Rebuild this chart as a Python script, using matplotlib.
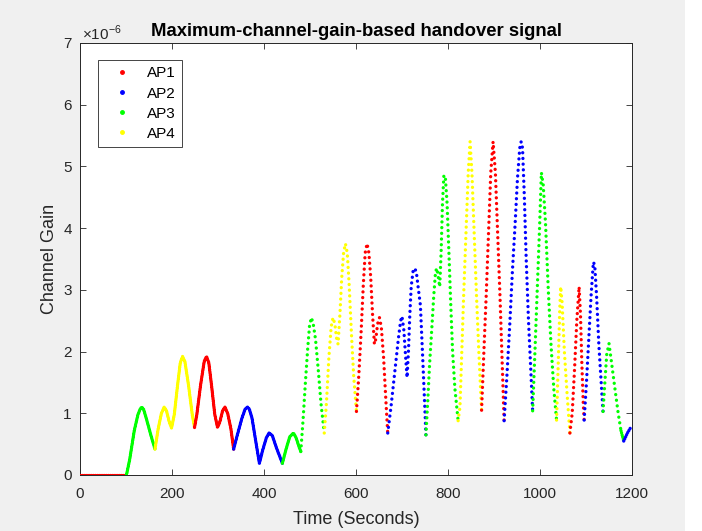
import numpy as np
import matplotlib
matplotlib.use("Agg")
import matplotlib.pyplot as plt
from matplotlib.lines import Line2D
from matplotlib.patches import Rectangle
from matplotlib.ticker import FuncFormatter

plt.rcParams["font.family"] = ["Liberation Sans", "DejaVu Sans"]
plt.rcParams["mathtext.fontset"] = "custom"
plt.rcParams["mathtext.rm"] = "Liberation Sans"

# strongest-AP channel gain (keypoints, x1e-6)
time_s = [0, 101, 108, 118, 126, 131, 134, 138, 144, 155, 163,
          170, 177, 183, 188, 194, 199, 205, 212, 218, 223, 228, 236, 244, 249,
          254, 262, 270, 275, 280, 286, 293, 299, 304, 310, 315, 321, 328, 334,
          341, 352, 359, 364, 368, 374, 382, 390, 397, 405, 411, 418, 428, 440,
          448, 456, 464, 470, 476, 480, 485, 490, 495, 499, 503, 507, 512, 518, 524, 531,
          536, 541, 546, 550, 554, 558, 561, 565, 569, 573, 577, 581, 585, 590, 595, 601,
          606, 611, 616, 620, 624, 628, 632, 636, 640, 643, 647, 651, 655, 660, 665, 669,
          676, 684, 692, 697, 700, 704, 708, 711, 714, 717, 720, 724, 727, 731, 735, 740, 745, 749, 752,
          756, 760, 765, 769, 773, 776, 779, 782, 785, 788, 791, 794, 798, 802, 806, 810, 815, 822,
          826, 830, 834, 839, 844, 848, 852, 857, 862, 867, 873,
          878, 883, 888, 893, 898, 903, 908, 913, 917, 922,
          928, 934, 940, 946, 951, 956, 959, 962, 966, 970, 975, 980, 984,
          989, 994, 999, 1003, 1007, 1012, 1018, 1024, 1030, 1036,
          1040, 1043, 1045, 1048, 1053, 1059, 1065,
          1070, 1075, 1080, 1085, 1088, 1091, 1094, 1096,
          1101, 1106, 1111, 1116, 1119, 1123, 1128, 1133, 1137,
          1141, 1145, 1150, 1155, 1162, 1170, 1176, 1182,
          1190, 1198]
gain_e6 = [0, 0, 0.25, 0.72, 0.98, 1.07, 1.10, 1.07, 0.92, 0.62, 0.42,
           0.75, 1.0, 1.10, 1.04, 0.86, 0.76, 0.98, 1.45, 1.82, 1.92, 1.84, 1.45, 0.98, 0.77,
           0.98, 1.45, 1.84, 1.92, 1.82, 1.45, 0.98, 0.77, 0.86, 1.04, 1.10, 1.0, 0.75, 0.42,
           0.62, 0.92, 1.07, 1.10, 1.07, 0.92, 0.55, 0.19, 0.40, 0.60, 0.68, 0.64, 0.42, 0.19,
           0.42, 0.62, 0.68, 0.60, 0.46, 0.38, 0.9, 1.5, 2.05, 2.42, 2.55, 2.45, 2.2, 1.7, 1.15, 0.68,
           1.2, 1.9, 2.4, 2.55, 2.45, 2.2, 2.12, 2.6, 3.2, 3.6, 3.75, 3.6, 3.1, 2.3, 1.6, 1.03,
           1.6, 2.3, 3.1, 3.6, 3.75, 3.6, 3.2, 2.6, 2.12, 2.2, 2.45, 2.55, 2.4, 1.9, 1.2, 0.68,
           1.1, 1.65, 2.2, 2.5, 2.57, 2.35, 1.9, 1.58, 2.0, 2.6, 3.05, 3.3, 3.35, 3.3, 3.05, 2.75, 1.9, 1.2, 0.65,
           1.2, 1.8, 2.4, 2.9, 3.3, 3.35, 3.2, 3.05, 3.6, 4.4, 4.85, 4.85, 4.4, 3.6, 2.76, 2.0, 1.4, 0.88,
           1.1, 2.0, 2.9, 3.9, 4.9, 5.4, 4.9, 3.9, 2.9, 2.0, 1.05,
           2.0, 2.9, 3.9, 4.9, 5.4, 4.9, 3.9, 2.9, 2.0, 0.88,
           1.6, 2.4, 3.3, 4.08, 4.8, 5.3, 5.4, 5.3, 4.5, 3.5, 2.5, 1.7, 1.04,
           2.0, 3.0, 4.0, 4.9, 4.7, 4.08, 3.0, 2.1, 1.4, 0.89,
           1.9, 2.7, 3.05, 2.8, 2.0, 1.3, 0.68,
           1.0, 1.7, 2.5, 3.05, 2.6, 1.8, 1.17, 0.89,
           1.5, 2.2, 2.9, 3.45, 3.4, 2.9, 2.1, 1.5, 1.03,
           1.5, 1.95, 2.13, 1.85, 1.45, 1.0, 0.72, 0.55,
           0.68, 0.78]

# handover instants and the AP that serves each interval
switch_times = [0, 101, 163, 249, 334, 440, 531, 601, 669, 752, 822, 873,
                922, 984, 1036, 1065, 1096, 1137, 1182, 1198]
serving_ap = [1, 3, 4, 1, 2, 3, 4, 1, 2, 3, 4, 1, 2, 3, 4, 1, 2, 3, 2]

ap_names = ["AP1", "AP2", "AP3", "AP4"]
ap_colors = ["#ff0000", "#0000ff", "#00ff00", "#ffff00"]

x_ticks = [0, 200, 400, 600, 800, 1000, 1200]
y_ticks = [0, 1, 2, 3, 4, 5, 6, 7]

# slowly varying stretches look like a solid bead line in the original
DENSE_UNTIL, DENSE_FROM = 480, 1176
AXC = "#262626"

t = np.array(time_s, dtype=float)
g = np.array(gain_e6) * 1e-6

fig = plt.figure(figsize=(7.02, 5.31), dpi=100, facecolor="#f0f0f0")
fig.patches.append(Rectangle((685 / 702, 0), 1, 1, transform=fig.transFigure,
                             fc="white", ec="none", zorder=-10))
ax = fig.add_axes([80 / 702, 56 / 531, 552 / 702, 432 / 531])


def dotted(tt, gg, color, gap):
    if len(tt) < 2:
        return
    ax.plot(tt, gg, color=color, lw=2.4, ls=(0, (0.01, gap)),
            dash_capstyle="round", zorder=3)


for i, ap in enumerate(serving_ap):
    a, b = switch_times[i], switch_times[i + 1]
    c = ap_colors[ap - 1]
    m = (t >= a) & (t <= b)
    ts, gs = t[m], g[m]
    dense1 = ts <= DENSE_UNTIL
    dense2 = ts >= DENSE_FROM
    sparse = (ts >= DENSE_UNTIL) & (ts <= DENSE_FROM)
    dotted(ts[dense1], gs[dense1], c, 0.55)
    dotted(ts[sparse], gs[sparse], c, 1.7)
    dotted(ts[dense2], gs[dense2], c, 0.7)

ax.set_xlim(0, 1200)
ax.set_ylim(0, 7e-6)
ax.set_xticks(x_ticks)
ax.set_yticks([v * 1e-6 for v in y_ticks])
ax.yaxis.set_major_formatter(FuncFormatter(lambda v, _: f"{v * 1e6:g}"))
ax.tick_params(direction="in", length=4.5, width=0.6, colors=AXC,
               labelsize=11, top=True, right=True, pad=6)
ax.tick_params(axis="x", pad=9)
for sp in ax.spines.values():
    sp.set_color(AXC)
    sp.set_linewidth(0.7)

ax.set_xlabel("Time (Seconds)", fontsize=13, color=AXC, labelpad=7)
ax.set_ylabel("Channel Gain", fontsize=13, color=AXC, labelpad=4)
ax.set_title("Maximum-channel-gain-based handover signal", fontsize=13.3,
             fontweight="bold", color="black", pad=5)
fig.text(82 / 702, 1 - 33 / 531, r"$\times10^{-6}$", fontsize=11, color=AXC,
         ha="left", va="center")

handles = [Line2D([], [], ls="none", marker=".", ms=5, color=c) for c in ap_colors]
leg = ax.legend(handles, ap_names, loc="upper left", bbox_to_anchor=(0.032, 0.9606),
                borderaxespad=0, fontsize=11, fancybox=False, framealpha=1,
                edgecolor=AXC, labelspacing=0.4, borderpad=0.42,
                handlelength=2.3, handletextpad=0.5)
leg.get_frame().set_linewidth(0.6)

fig.savefig("out.png", dpi=100, facecolor=fig.get_facecolor())
